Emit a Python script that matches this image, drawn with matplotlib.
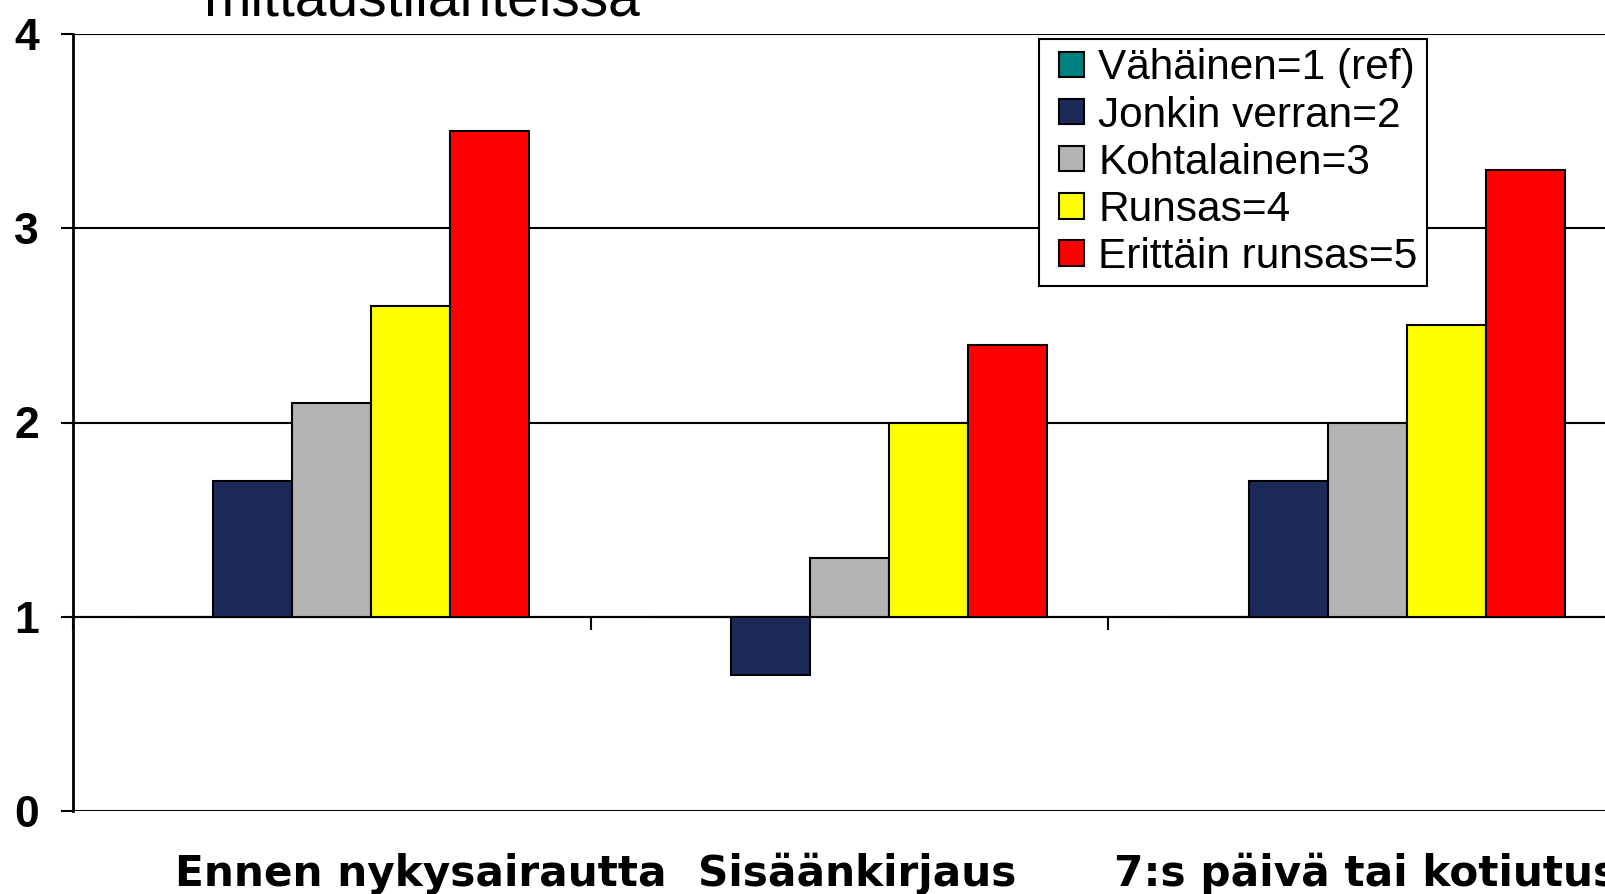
import numpy as np
import matplotlib
matplotlib.use("Agg")
import matplotlib.pyplot as plt
from matplotlib.patches import Rectangle
from matplotlib.container import BarContainer
from matplotlib.legend_handler import HandlerPatch, update_from_first_child

# data (ratio vs. reference group, baseline 1)
categories = ["Ennen nykysairautta", "Sisäänkirjaus", "7:s päivä tai kotiutus"]
series_names = ["Vähäinen=1 (ref)", "Jonkin verran=2", "Kohtalainen=3",
                "Runsas=4", "Erittäin runsas=5"]
vahainen = [1.0, 1.0, 1.0]
jonkin_verran = [1.7, 0.7, 1.7]
kohtalainen = [2.1, 1.3, 2.0]
runsas = [2.6, 2.0, 2.5]
erittain_runsas = [3.5, 2.4, 3.3]
colors = ["#008080", "#1c2a5a", "#b3b3b3", "#ffff00", "#ff0000"]
yticks = [0, 1, 2, 3, 4]
baseline = 1.0

series = [vahainen, jonkin_verran, kohtalainen, runsas, erittain_runsas]

fig = plt.figure(figsize=(16.05, 8.94), dpi=100)
ax = fig.add_axes([73 / 1605, 83 / 894, 1553 / 1605, 777 / 894])

x = np.arange(len(categories))
w = 0.1526
for i, (vals, name, c) in enumerate(zip(series, series_names, colors)):
    vals = np.array(vals)
    ax.bar(x + (i - 2) * w, vals - baseline, bottom=baseline, width=w,
           color=c, edgecolor="black", linewidth=1.5, label=name, zorder=3)

ax.set_xlim(-0.5, len(categories) - 0.5)
ax.set_ylim(0, 4)
ax.set_yticks(yticks)
ax.set_yticklabels([str(t) for t in yticks], fontfamily="Liberation Sans",
                   fontweight="bold", fontsize=32)
ax.yaxis.grid(True, color="black", linewidth=1.5, zorder=0)
ax.set_axisbelow(True)

# category axis crosses at y = 1, tick marks between the groups
ax.spines["bottom"].set_position(("data", baseline))
ax.spines["bottom"].set_linewidth(1.5)
ax.set_xticks(np.arange(len(categories) + 1) - 0.5)
ax.set_xticklabels([])
ax.tick_params(axis="x", direction="out", length=9.4, width=1.5)
ax.tick_params(axis="y", direction="out", length=8.6, width=1.5, pad=16)
ax.spines["left"].set_linewidth(2)
ax.spines["top"].set_visible(False)
ax.spines["right"].set_visible(False)

label_left = [-0.302, 0.708, 1.510]
for xl, cat in zip(label_left, categories):
    ax.text(xl, -0.0965, cat, transform=ax.get_xaxis_transform(),
            ha="left", va="baseline", fontfamily="DejaVu Sans",
            fontweight="bold", fontsize=30.4)

fig.text(422 / 1605, 1 - 15 / 894, "mittaustilanteissa", ha="center",
         va="baseline", fontfamily="Liberation Sans", fontsize=41)


def square_handle(legend, orig_handle, xdescent, ydescent, width, height, fontsize):
    s = 0.6 * fontsize
    return Rectangle((-xdescent + width - s, -ydescent + (height - s) / 2), s, s)


handler = HandlerPatch(patch_func=square_handle, update_func=update_from_first_child)
leg = ax.legend(loc="upper left", bbox_to_anchor=(1039 / 1605, 1 - 39 / 894),
                bbox_transform=fig.transFigure, borderaxespad=0,
                prop={"family": "Liberation Sans", "size": 30.5},
                fancybox=False, framealpha=1, edgecolor="black",
                handlelength=0.85, handleheight=0.6, handletextpad=0.33,
                labelspacing=0.17, borderpad=0.22,
                handler_map={BarContainer: handler})
leg.get_frame().set_linewidth(1.5)

fig.savefig("out.png", dpi=100)
